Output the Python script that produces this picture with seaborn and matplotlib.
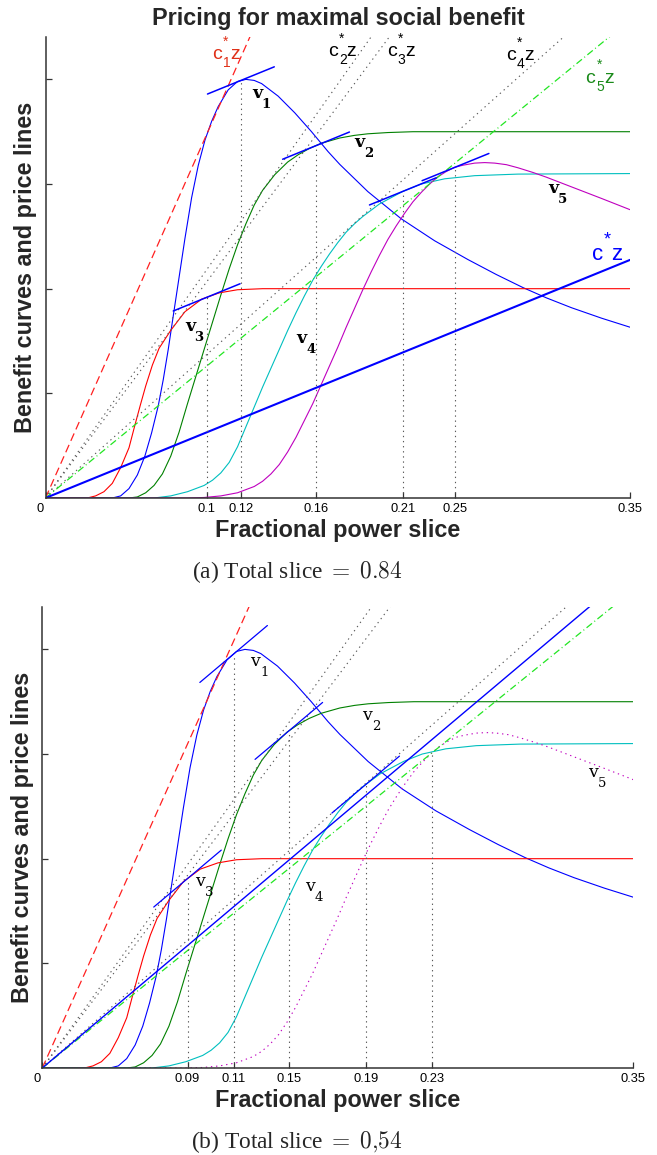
import numpy as np
import pandas as pd
import matplotlib
matplotlib.use("Agg")
import matplotlib.pyplot as plt
import seaborn as sns
from matplotlib.transforms import ScaledTranslation

# ---------------- benefit curves V1..V5 (slice -> benefit) ----------------
v1_x = [0, 0.040, 0.045, 0.050, 0.055, 0.0595, 0.0635, 0.0675, 0.0705, 0.0735,
        0.0765, 0.080, 0.0835, 0.0875, 0.0915, 0.0955, 0.0995, 0.1034, 0.1094,
        0.115, 0.120, 0.125, 0.1294, 0.1393, 0.1493, 0.1593, 0.1692, 0.1762,
        0.193, 0.213, 0.233, 0.253, 0.270, 0.286, 0.300, 0.315, 0.333, 0.35]
v1_y = [0, 0, 0.02, 0.09, 0.22, 0.40, 0.62, 0.88, 1.13, 1.42,
        1.74, 2.11, 2.48, 2.87, 3.18, 3.42, 3.60, 3.74, 3.90,
        3.98, 4.0, 3.99, 3.96, 3.84, 3.68, 3.50, 3.31, 3.188,
        2.928, 2.668, 2.458, 2.278, 2.135, 2.01, 1.912, 1.818, 1.718, 1.632]

v2_x = [0, 0.050, 0.055, 0.060, 0.065, 0.070, 0.075, 0.080, 0.085, 0.090,
        0.095, 0.100, 0.105, 0.110, 0.115, 0.120, 0.125, 0.130, 0.1373,
        0.145, 0.1513, 0.158, 0.1653, 0.1762, 0.185, 0.193, 0.205, 0.220, 0.35]
v2_y = [0, 0, 0.01, 0.05, 0.12, 0.23, 0.40, 0.63, 0.90, 1.16,
        1.42, 1.68, 1.94, 2.19, 2.42, 2.62, 2.80, 2.94, 3.09,
        3.21, 3.28, 3.34, 3.39, 3.44, 3.465, 3.48, 3.492, 3.50, 3.50]

v3_x = [0, 0.025, 0.030, 0.035, 0.040, 0.045, 0.050, 0.0536, 0.057, 0.060,
        0.064, 0.068, 0.0749, 0.0835, 0.0935, 0.104, 0.115, 0.130, 0.35]
v3_y = [0, 0, 0.02, 0.06, 0.14, 0.29, 0.48, 0.70, 0.90, 1.07,
        1.27, 1.43, 1.60, 1.78, 1.90, 1.96, 1.99, 2.0, 2.0]

v4_x = [0, 0.065, 0.075, 0.085, 0.095, 0.100, 0.105, 0.110, 0.115, 0.120,
        0.125, 0.130, 0.135, 0.140, 0.145, 0.150, 0.155, 0.160, 0.165, 0.170,
        0.175, 0.180, 0.185, 0.190, 0.195, 0.200, 0.207, 0.214, 0.225, 0.239,
        0.257, 0.283, 0.35]
v4_y = [0, 0, 0.02, 0.06, 0.12, 0.17, 0.24, 0.34, 0.49, 0.68,
        0.87, 1.06, 1.24, 1.42, 1.60, 1.77, 1.93, 2.08, 2.21, 2.33,
        2.44, 2.54, 2.62, 2.69, 2.75, 2.81, 2.87, 2.93, 3.00, 3.05,
        3.08, 3.095, 3.10]

v5_x = [0, 0.085, 0.095, 0.105, 0.115, 0.120, 0.125, 0.130, 0.135, 0.140,
        0.145, 0.150, 0.155, 0.160, 0.165, 0.170, 0.175, 0.180, 0.185, 0.190,
        0.195, 0.200, 0.205, 0.210, 0.215, 0.220, 0.225, 0.230, 0.235, 0.240,
        0.245, 0.250, 0.257, 0.263, 0.269, 0.276, 0.283, 0.292, 0.300, 0.313,
        0.333, 0.35]
v5_y = [0, 0, 0.005, 0.02, 0.05, 0.08, 0.11, 0.16, 0.23, 0.32,
        0.44, 0.58, 0.74, 0.90, 1.08, 1.26, 1.44, 1.63, 1.81, 1.99,
        2.16, 2.32, 2.47, 2.60, 2.72, 2.83, 2.92, 3.00, 3.07, 3.12,
        3.16, 3.18, 3.20, 3.205, 3.20, 3.185, 3.155, 3.11, 3.065, 2.985,
        2.862, 2.755]

users = ["V1", "V2", "V3", "V4", "V5"]
curve_colors = ["#0000ff", "#008000", "#ff0000", "#00bfbf", "#bf00bf"]

# slopes of the price lines c_i^* z
price_slopes = [36.0, 22.6, 21.4, 14.2, 13.05]

# panel (a): total slice 0.84
cstar_a = 6.5
xopt_a = [0.117, 0.162, 0.0965, 0.214, 0.2455]
vopt_a = [3.99, 3.367, 1.917, 2.93, 3.162]
xtick_labels_a = ["0", "0.1", "0.12", "0.16", "0.21", "0.25", "0.35"]

# panel (b): total slice 0.54 (user 5 priced out)
cstar_b = 13.6
xopt_b = [0.1133, 0.146, 0.086, 0.1915, 0.231]
vopt_b = [3.956, 3.221, 1.81, 2.708, 3.014]
active_b = [True, True, True, True, False]
xtick_labels_b = ["0", "0.09", "0.11", "0.15", "0.19", "0.23", "0.35"]

X_MAX = 0.35
Y_MAX = 4.405

curves = pd.concat([
    pd.DataFrame({"user": u, "slice": xs, "benefit": ys})
    for u, xs, ys in zip(users, [v1_x, v2_x, v3_x, v4_x, v5_x],
                         [v1_y, v2_y, v3_y, v4_y, v5_y])
], ignore_index=True)

sns.set_style("ticks")
plt.rcParams["font.family"] = ["Liberation Sans", "DejaVu Sans"]

W, H = 657, 1155
fig = plt.figure(figsize=(W / 100, H / 100), dpi=100)

DOT = (0, (1.2, 3.4))
DASH = (0, (6.5, 3.5))
DASHDOT = (0, (5.6, 2.4, 0.8, 2.4))
GREY = "0.35"


def draw_panel(rect, cstar, xopt, vopt, active, tick_labels, star_lw, tan_lw):
    ax = fig.add_axes(rect)
    palette = dict(zip(users, curve_colors))
    dashes = {u: ("" if a else (1.2, 3.4)) for u, a in zip(users, active)}
    sns.lineplot(data=curves, x="slice", y="benefit", hue="user", style="user",
                 palette=palette, dashes=dashes, estimator=None, sort=False,
                 legend=False, linewidth=0.8, ax=ax)

    zx = np.array([0.0, X_MAX])
    # price lines c_i^* z
    ax.plot(zx, price_slopes[0] * zx, color="#ff2020", lw=0.9, ls=DASH)
    for c in price_slopes[1:4]:
        ax.plot(zx, c * zx, color=GREY, lw=0.8, ls=DOT)
    ax.plot(zx, price_slopes[4] * zx, color="#22e622", lw=0.9, ls=DASHDOT)
    # common price line c^* z
    ax.plot(zx, cstar * zx, color="#0000ff", lw=star_lw)

    # optimal slices: vertical markers and tangents of slope c^*
    for xo, vo, a in zip(xopt, vopt, active):
        ax.plot([xo, xo], [0, vo], color=GREY, lw=0.8, ls=DOT)
        if a:
            dx = 0.02
            ax.plot([xo - dx, xo + dx], [vo - cstar * dx, vo + cstar * dx],
                    color="#0000ff", lw=tan_lw)

    ax.set_xlim(0, X_MAX)
    ax.set_ylim(0, Y_MAX)
    ticks = [0.0] + sorted(xopt) + [X_MAX]
    ax.set_xticks(ticks)
    ax.set_xticklabels(tick_labels)
    ax.set_yticks([1, 2, 3, 4])
    ax.set_yticklabels([])
    sns.despine(ax=ax)
    for s in ("left", "bottom"):
        ax.spines[s].set_color("0.2")
        ax.spines[s].set_linewidth(1.1)
    ax.tick_params(direction="in", length=4.3, width=0.9, color="0.2",
                   labelsize=9.3, labelcolor="black", pad=3.5)
    ax.set_xlabel("Fractional power slice", fontsize=16.8, fontweight="bold",
                  va="baseline")
    ax.xaxis.set_label_coords(0.5, -0.084)
    ax.set_ylabel("Benefit curves and price lines", fontsize=16.8,
                  fontweight="bold", rotation=90, rotation_mode="anchor",
                  ha="center", va="baseline")
    # nudge the "0" label slightly left of the origin
    t0 = ax.xaxis.get_major_ticks()[0].label1
    t0.set_transform(t0.get_transform() +
                     ScaledTranslation(-5.5 / 100, 0, fig.dpi_scale_trans))
    return ax


def piece(ax, x, y, s, size, color="black", family="Liberation Sans",
          weight="normal"):
    ax.text(x, y, s, fontsize=size, color=color, family=family,
            fontweight=weight, ha="center", va="center", clip_on=False)


def price_label(ax, xc, yc, sub, color, size=14, sub_size=10):
    # c with subscript and star, followed by z
    piece(ax, xc, yc, "c", size, color)
    if sub:
        piece(ax, xc + 0.0060, yc - 0.080, sub, sub_size, color)
        piece(ax, xc + 0.0054, yc + 0.125, "*", sub_size, color)
        piece(ax, xc + 0.0110, yc, "z", size, color)
    else:
        piece(ax, xc + 0.0058, yc + 0.145, "*", sub_size + 2, color)
        piece(ax, xc + 0.0112, yc, "z", size, color)


def user_label(ax, xv, yv, num, weight):
    piece(ax, xv, yv, "v", 12.5, family="DejaVu Serif", weight=weight)
    piece(ax, xv + 0.0055, yv - 0.105, num, 9.5, family="DejaVu Serif",
          weight=weight)


# ---------------- panel (a) ----------------
rect_a = [45.5 / W, 1 - 498 / H, (630 - 45.5) / W, (498 - 37) / H]
ax_a = draw_panel(rect_a, cstar_a, xopt_a, vopt_a, [True] * 5,
                  xtick_labels_a, 1.5, 1.1)
ax_a.yaxis.set_label_coords(-0.0236, 0.5)

price_label(ax_a, 0.1025, 4.235, "1", "#e03018")
price_label(ax_a, 0.1721, 4.267, "2", "black")
price_label(ax_a, 0.2072, 4.264, "3", "black")
price_label(ax_a, 0.2786, 4.226, "4", "black")
price_label(ax_a, 0.3263, 4.012, "5", "#1a8a1a")
price_label(ax_a, 0.3308, 2.323, None, "#0000ff", size=16, sub_size=11)

user_label(ax_a, 0.1266, 3.862, "1", "bold")
user_label(ax_a, 0.1882, 3.394, "2", "bold")
user_label(ax_a, 0.0865, 1.638, "3", "bold")
user_label(ax_a, 0.1533, 1.527, "4", "bold")
user_label(ax_a, 0.3039, 2.961, "5", "bold")

# ---------------- panel (b) ----------------
rect_b = [42.3 / W, 1 - 1068 / H, (633.3 - 42.3) / W, (1068 - 607) / H]
ax_b = draw_panel(rect_b, cstar_b, xopt_b, vopt_b, active_b,
                  xtick_labels_b, 1.0, 0.9)
ax_b.yaxis.set_label_coords(-0.022, 0.5)

user_label(ax_b, 0.1259, 3.881, "1", "normal")
user_label(ax_b, 0.1921, 3.372, "2", "normal")
user_label(ax_b, 0.0934, 1.779, "3", "normal")
user_label(ax_b, 0.1585, 1.732, "4", "normal")
user_label(ax_b, 0.3262, 2.820, "5", "normal")

# ---------------- title and captions ----------------
fig.text(338.3 / W, 1 - 25 / H, "Pricing for maximal social benefit",
         ha="center", va="baseline", fontsize=16.8, fontweight="bold")
fig.text(296.7 / W, 1 - 578.3 / H, r"(a) Total slice$\;=\;0.84$",
         ha="center", va="baseline", fontsize=16.8, family="Liberation Serif",
         math_fontfamily="cm")
fig.text(296.7 / W, 1 - 1148.3 / H, r"(b) Total slice$\;=\;0{,}54$",
         ha="center", va="baseline", fontsize=16.8, family="Liberation Serif",
         math_fontfamily="cm")

fig.savefig("out.png", dpi=100)
